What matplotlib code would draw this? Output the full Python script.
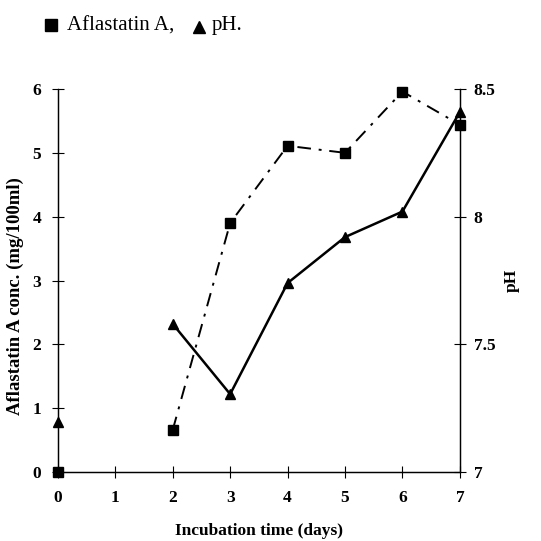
import numpy as np
import matplotlib.pyplot as plt

plt.rcParams['font.family'] = ['Liberation Serif', 'DejaVu Sans']

# data
days_afl = [0, 2, 3, 4, 5, 6, 7]
aflastatin = [0.0, 0.66, 3.90, 5.11, 5.0, 5.96, 5.44]

days_ph = [0, 2, 3, 4, 5, 6, 7]
ph = [7.195, 7.58, 7.305, 7.74, 7.92, 8.02, 8.41]

x_ticks = [0, 1, 2, 3, 4, 5, 6, 7]
y_ticks = [0, 1, 2, 3, 4, 5, 6]
ph_ticks = [7, 7.5, 8, 8.5]

fig = plt.figure(figsize=(5.41, 5.41), dpi=100)
ax = fig.add_axes([0.107, 0.1275, 0.743, 0.708])
ax2 = ax.twinx()

# day 0 points are plotted alone, lines start from day 2
ax.plot(days_afl[:1], aflastatin[:1], 's', color='black', ms=6.5, clip_on=False, zorder=5)
ax.plot(days_afl[1:], aflastatin[1:], color='black', lw=1.4,
        dashes=(7, 4, 1.5, 4), marker='s', ms=6.5, clip_on=False)
ax2.plot(days_ph[:1], ph[:1], '^', color='black', ms=7, clip_on=False, zorder=5)
ax2.plot(days_ph[1:], ph[1:], '-', color='black', lw=1.8, marker='^', ms=7, clip_on=False)

ax.set_xlim(0, 7)
ax.set_ylim(0, 6)
ax2.set_ylim(7, 8.5)
ax.set_xticks(x_ticks)
ax.set_yticks(y_ticks)
ax2.set_yticks(ph_ticks)
ax2.set_yticklabels(['7', '7.5', '8', '8.5'])

for a in (ax, ax2):
    a.spines['top'].set_visible(False)
    for s in a.spines.values():
        s.set_linewidth(0.9)
    a.tick_params(direction='inout', length=8, width=0.8, labelsize=12.5)
    for lab in a.get_xticklabels() + a.get_yticklabels():
        lab.set_fontweight('bold')
ax.tick_params(axis='x', pad=9)
ax.tick_params(axis='y', pad=8)
ax2.tick_params(axis='y', pad=6)

ax.set_xlabel('Incubation time (days)', fontsize=12.5, fontweight='bold', labelpad=12)
ax.set_ylabel('Aflastatin A conc. (mg/100ml)', fontsize=13.5, fontweight='bold')
ax.yaxis.set_label_coords(-0.085, 0.46)
ax2.set_ylabel('pH', fontsize=12.5, fontweight='bold', labelpad=6)

# legend line at the top, as in the printed figure
ax.plot([0.094], [0.953], 's', color='black', ms=8.5, transform=fig.transFigure, clip_on=False)
fig.text(0.124, 0.944, 'Aflastatin A,', fontsize=15, va='baseline', ha='left')
ax.plot([0.368], [0.951], '^', color='black', ms=9, transform=fig.transFigure, clip_on=False)
fig.text(0.392, 0.944, 'pH.', fontsize=15, va='baseline', ha='left')

fig.savefig('out.png', dpi=100)
